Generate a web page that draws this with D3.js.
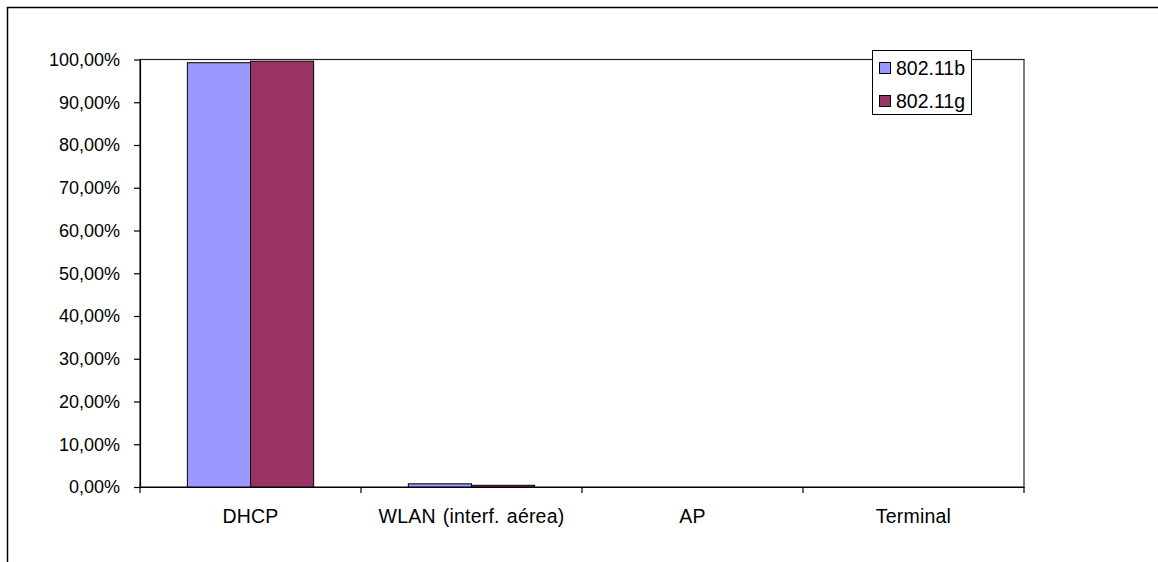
<!DOCTYPE html>
<html>
<head>
<meta charset="utf-8">
<script src="https://cdn.jsdelivr.net/npm/d3@7/dist/d3.min.js"></script>
<style>
  html, body { margin: 0; padding: 0; background: #fff; }
  svg { display: block; }
  text { font-family: "Liberation Sans", Arial, sans-serif; fill: #000; }
</style>
</head>
<body>
<svg id="chart" width="1158" height="562"></svg>
<script>
// Categories and series values (share of failures, %)
const categories = ["DHCP", "WLAN (interf. aérea)", "AP", "Terminal"];
const seriesNames = ["802.11b", "802.11g"];
const values80211b = [99.25, 0.75, 0, 0];
const values80211g = [99.6, 0.4, 0, 0];
const seriesColors = ["#9999FF", "#993366"];
const yTickValues = [0, 10, 20, 30, 40, 50, 60, 70, 80, 90, 100];

const seriesValues = [values80211b, values80211g];
const data = categories.map((c, i) => ({
  category: c,
  values: seriesNames.map((s, j) => ({ series: s, value: seriesValues[j][i], color: seriesColors[j] }))
}));

const svg = d3.select("#chart");
const tickFont = 18;
const labelFont = 19.5;

// Outer chart frame (continues past the right and bottom edges)
svg.append("path")
  .attr("d", "M7.5,600 V7.5 H1200")
  .attr("fill", "none")
  .attr("stroke", "#000")
  .attr("stroke-width", 1.5);

const plot = { left: 140, right: 1024, top: 59.5, bottom: 487 };

const y = d3.scaleLinear().domain([0, 100]).range([plot.bottom, plot.top]);
const x0 = d3.scaleBand().domain(categories).range([plot.left, plot.right]).padding(0);
const x1 = d3.scaleBand().domain(seriesNames).range([0, x0.bandwidth()])
  .paddingInner(0).paddingOuter(0.75);

const locale = d3.formatLocale({ decimal: ",", thousands: ".", grouping: [3], currency: ["", "€"] });
const pct = v => locale.format(".2f")(v) + "%";

// Plot area frame
svg.append("rect")
  .attr("x", plot.left).attr("y", plot.top)
  .attr("width", plot.right - plot.left).attr("height", plot.bottom - plot.top)
  .attr("fill", "#fff")
  .attr("stroke", "#222").attr("stroke-width", 1.2);

// Bars
const groups = svg.append("g").selectAll("g")
  .data(data).join("g")
  .attr("transform", d => `translate(${x0(d.category)},0)`);

groups.selectAll("rect")
  .data(d => d.values).join("rect")
  .attr("x", d => x1(d.series))
  .attr("y", d => y(d.value))
  .attr("width", x1.bandwidth())
  .attr("height", d => y(0) - y(d.value))
  .attr("fill", d => d.color)
  .attr("stroke", "#000")
  .attr("stroke-width", 1);

// Y axis
const yAxis = d3.axisLeft(y).tickValues(yTickValues).tickFormat(pct).tickSizeInner(6).tickSizeOuter(0).tickPadding(14);
const gy = svg.append("g").attr("transform", `translate(${plot.left},0)`).call(yAxis);
gy.select(".domain").attr("stroke", "#000").attr("stroke-width", 1.2);
gy.selectAll(".tick line").attr("stroke", "#000").attr("stroke-width", 1.2);
gy.selectAll(".tick text").attr("font-size", tickFont).attr("font-family", "'Liberation Sans', Arial, sans-serif");

// X axis with ticks between categories
const xAxis = d3.axisBottom(x0).tickSize(0).tickPadding(22);
const gx = svg.append("g").attr("transform", `translate(0,${plot.bottom})`).call(xAxis);
gx.select(".domain").attr("stroke", "#000").attr("stroke-width", 1.2);
gx.selectAll(".tick text")
  .attr("font-size", labelFont)
  .attr("word-spacing", "1.5px")
  .attr("letter-spacing", "0.2px")
  .attr("font-family", "'Liberation Sans', Arial, sans-serif");
const boundaries = categories.map(c => x0(c)).concat([x0(categories[categories.length - 1]) + x0.bandwidth()]);
gx.selectAll("line.sep").data(boundaries).join("line")
  .attr("class", "sep")
  .attr("x1", d => d).attr("x2", d => d)
  .attr("y1", 0).attr("y2", 6)
  .attr("stroke", "#000").attr("stroke-width", 1.2);

// Legend
const legend = svg.append("g").attr("transform", "translate(872,50)");
legend.append("rect")
  .attr("x", 0.5).attr("y", 0.5).attr("width", 99).attr("height", 64)
  .attr("fill", "#fff").attr("stroke", "#000").attr("stroke-width", 1);
const items = legend.selectAll("g.item").data(seriesNames).join("g")
  .attr("class", "item")
  .attr("transform", (d, i) => `translate(0,${18 + i * 33})`);
items.append("rect")
  .attr("x", 7.5).attr("y", -5.5).attr("width", 11).attr("height", 11)
  .attr("fill", (d, i) => seriesColors[i])
  .attr("stroke", "#000").attr("stroke-width", 1);
items.append("text")
  .attr("x", 24).attr("y", 0).attr("dy", "0.35em")
  .attr("font-size", labelFont)
  .text(d => d);
</script>
</body>
</html>
